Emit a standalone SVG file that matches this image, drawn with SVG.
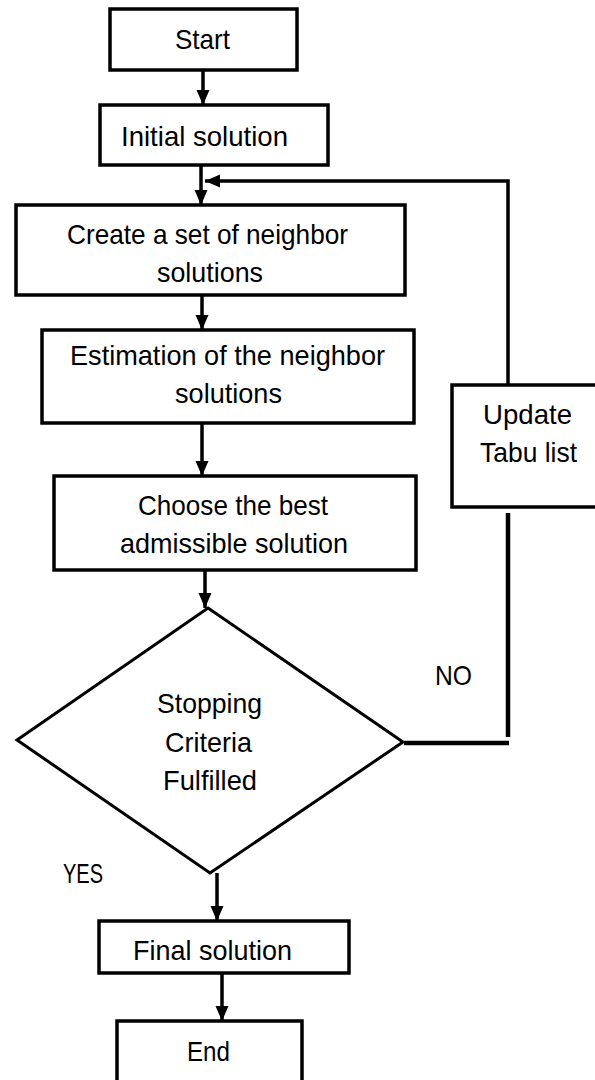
<svg xmlns="http://www.w3.org/2000/svg" width="595" height="1080" viewBox="0 0 595 1080">
<style>
.box{fill:#fff;stroke:#000;stroke-width:3.5}
.dia{fill:#fff;stroke:#000;stroke-width:3}
.t{font-family:"Liberation Sans",Arial,sans-serif;font-size:28px;fill:#000;text-anchor:middle}
.c{fill:none;stroke:#000;stroke-width:3.5}
.cn{fill:none;stroke:#000;stroke-width:4.5}
</style>
<defs>
<marker id="ah" markerUnits="userSpaceOnUse" markerWidth="16" markerHeight="16" viewBox="0 0 16 16" refX="15" refY="8" orient="auto">
<path d="M0,1.5 L15,8 L0,14.5 Z" fill="#000"/>
</marker>
</defs>
<rect width="595" height="1080" fill="#fff"/>
<g id="connectors">
<line class="c" x1="203" y1="70" x2="203" y2="105" marker-end="url(#ah)"/>
<line class="c" x1="201" y1="165" x2="201" y2="205" marker-end="url(#ah)"/>
<polyline class="c" points="508,385 508,181 205,181" marker-end="url(#ah)"/>
<line class="c" x1="202" y1="295" x2="202" y2="330" marker-end="url(#ah)"/>
<line class="c" x1="202" y1="423" x2="202" y2="476" marker-end="url(#ah)"/>
<line class="c" x1="205" y1="570" x2="205" y2="608" marker-end="url(#ah)"/>
<line class="cn" x1="404" y1="743" x2="509" y2="743"/>
<line class="cn" x1="508" y1="513" x2="508" y2="737"/>
<line class="c" x1="217" y1="873" x2="217" y2="921" marker-end="url(#ah)"/>
<line class="c" x1="222" y1="973" x2="222" y2="1021" marker-end="url(#ah)"/>
</g>
<g id="start">
<rect class="box" x="110" y="9" width="187" height="61"/>
<text class="t" x="202.5" y="49" textLength="55" lengthAdjust="spacingAndGlyphs">Start</text>
</g>
<g id="initial">
<rect class="box" x="100" y="105" width="228" height="60"/>
<text class="t" x="204.5" y="146" textLength="167" lengthAdjust="spacingAndGlyphs">Initial solution</text>
</g>
<g id="create">
<rect class="box" x="16" y="205" width="389" height="90"/>
<text class="t" x="207.5" y="244" textLength="281" lengthAdjust="spacingAndGlyphs">Create a set of neighbor</text>
<text class="t" x="210" y="282" textLength="106" lengthAdjust="spacingAndGlyphs">solutions</text>
</g>
<g id="estimation">
<rect class="box" x="42" y="330" width="372" height="93"/>
<text class="t" x="227.5" y="365" textLength="315" lengthAdjust="spacingAndGlyphs">Estimation of the neighbor</text>
<text class="t" x="228.5" y="403" textLength="107" lengthAdjust="spacingAndGlyphs">solutions</text>
</g>
<g id="choose">
<rect class="box" x="54" y="476" width="362" height="94"/>
<text class="t" x="233" y="515" textLength="190" lengthAdjust="spacingAndGlyphs">Choose the best</text>
<text class="t" x="234" y="553" textLength="228" lengthAdjust="spacingAndGlyphs">admissible solution</text>
</g>
<g id="update">
<rect class="box" x="452" y="385" width="160" height="122"/>
<text class="t" x="527.5" y="424" textLength="89" lengthAdjust="spacingAndGlyphs">Update</text>
<text class="t" x="528.5" y="462" textLength="97" lengthAdjust="spacingAndGlyphs">Tabu list</text>
</g>
<g id="decision">
<polygon class="dia" points="208,608 403,742 210,873 17,740"/>
<text class="t" x="209.5" y="713" textLength="105" lengthAdjust="spacingAndGlyphs">Stopping</text>
<text class="t" x="208.5" y="752" textLength="87" lengthAdjust="spacingAndGlyphs">Criteria</text>
<text class="t" x="210" y="790" textLength="94" lengthAdjust="spacingAndGlyphs">Fulfilled</text>
</g>
<g id="labels">
<text class="t" x="453.5" y="685" textLength="37" lengthAdjust="spacingAndGlyphs">NO</text>
<text class="t" x="83" y="883" textLength="40" lengthAdjust="spacingAndGlyphs">YES</text>
</g>
<g id="final">
<rect class="box" x="99" y="921" width="250" height="52"/>
<text class="t" x="212.5" y="960" textLength="159" lengthAdjust="spacingAndGlyphs">Final solution</text>
</g>
<g id="end">
<rect class="box" x="117" y="1021" width="185" height="70"/>
<text class="t" x="208.5" y="1061" textLength="43" lengthAdjust="spacingAndGlyphs">End</text>
</g>
</svg>
